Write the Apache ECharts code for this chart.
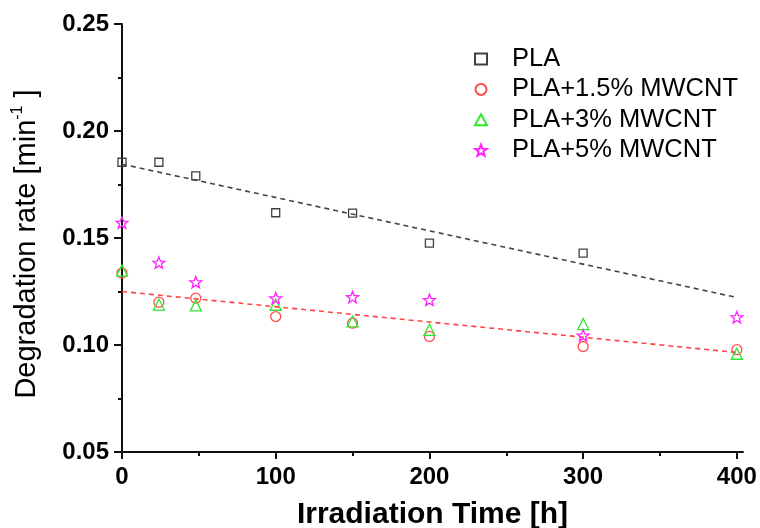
<!DOCTYPE html>
<html>
<head>
<meta charset="utf-8">
<script src="https://cdn.jsdelivr.net/npm/echarts@6/dist/echarts.min.js"></script>
<style>html,body{margin:0;padding:0;background:#fff}#c{width:760px;height:528px}</style>
</head>
<body>
<div id="c"></div>
<script>
// ---- data ----
var seriesNames = ['PLA', 'PLA+1.5% MWCNT', 'PLA+3% MWCNT', 'PLA+5% MWCNT'];
var timePLA = [0, 24, 48, 100, 150, 200, 300];
var ratePLA = [0.1854, 0.1854, 0.1790, 0.1618, 0.1616, 0.1476, 0.1429];
var timeCNT = [0, 24, 48, 100, 150, 200, 300, 400];
var rate15 = [0.1336, 0.1200, 0.1219, 0.1133, 0.1102, 0.1040, 0.0993, 0.0978];
var rate3 = [0.1348, 0.1189, 0.1185, 0.1188, 0.1110, 0.1071, 0.1098, 0.0959];
var rate5 = [0.1572, 0.1385, 0.1294, 0.1219, 0.1224, 0.1211, 0.1045, 0.1130];
var fitTime = [0, 400];
var fitPLA = [0.1845, 0.1222];
var fitCNT = [0.1250, 0.0965];
var xTicks = [0, 100, 200, 300, 400];
var xMinorTicks = [50, 150, 250, 350];
var yTicks = [0.05, 0.10, 0.15, 0.20, 0.25];

function pairs(xs, ys) { return xs.map(function (x, i) { return [x, ys[i]]; }); }

var FONT = '"Liberation Sans", Arial, sans-serif';
var starPath = 'path://M50 0 L62.34 33.01 L97.55 34.55 L69.97 56.49 L79.39 90.45 L50 71 L20.61 90.45 L30.03 56.49 L2.45 34.55 L37.66 33.01 Z';
var colors = ['#404040', '#ff4d4d', '#2fe82f', '#ff22ff'];

var chart = echarts.init(document.getElementById('c'), null, {renderer: 'canvas'});

function scatter(i, xs, ys, symbol, size) {
  return {
    type: 'scatter', name: seriesNames[i], xAxisIndex: 0, yAxisIndex: 0,
    data: pairs(xs, ys), symbol: symbol, symbolSize: size, symbolKeepAspect: true,
    itemStyle: {color: 'rgba(255,255,255,0)', borderColor: colors[i], borderWidth: 1.3, opacity: 1},
    emphasis: {disabled: true}, z: 3 + i
  };
}
function fit(ys, color) {
  return {
    type: 'line', data: pairs(fitTime, ys), symbol: 'none', silent: true,
    lineStyle: {color: color, width: 1.6, type: [5, 4]}, z: 2
  };
}

var option = {
  animation: false,
  backgroundColor: '#fff',
  grid: [
    {left: 122, right: 17, top: 24, bottom: 76, containLabel: false, outerBoundsMode: 'none'},
    {left: 122, right: 17, top: 24, bottom: 76, containLabel: false, outerBoundsMode: 'none'}
  ],
  legend: {
    orient: 'vertical', left: 469, top: 41,
    itemWidth: 12, itemHeight: 11, itemGap: 4.4,
    data: seriesNames,
    textStyle: {fontFamily: FONT, fontSize: 25.5, color: '#000', lineHeight: 24, padding: [0, 0, 0, 20]},
    selectedMode: false
  },
  xAxis: [{
    type: 'value', gridIndex: 0, min: 0, max: 404, interval: 100,
    axisLine: {show: true, lineStyle: {color: '#111', width: 2}},
    axisTick: {show: true, length: 7, customValues: xTicks, lineStyle: {color: '#111', width: 2}},
    axisLabel: {customValues: xTicks, fontFamily: FONT, fontSize: 24, fontWeight: 'bold', color: '#000', margin: 13},
    splitLine: {show: false},
    name: 'Irradiation Time [h]', nameLocation: 'middle', nameGap: 48,
    nameTextStyle: {fontFamily: FONT, fontSize: 30, fontWeight: 'bold', color: '#000'}
  }, {
    type: 'value', gridIndex: 1, min: 0, max: 404, interval: 100,
    axisLine: {show: false},
    axisTick: {show: true, length: 4, customValues: xMinorTicks, lineStyle: {color: '#111', width: 2}},
    axisLabel: {show: false}, splitLine: {show: false}
  }],
  yAxis: [{
    type: 'value', gridIndex: 0, min: 0.05, max: 0.25, interval: 0.05,
    axisLine: {show: true, lineStyle: {color: '#111', width: 2}},
    axisTick: {show: true, length: 8, lineStyle: {color: '#111', width: 2}},
    minorTick: {show: true, splitNumber: 2, length: 4, lineStyle: {color: '#111', width: 2}},
    axisLabel: {fontFamily: FONT, fontSize: 24, fontWeight: 'bold', color: '#000', margin: 13,
      formatter: function (v) { return v.toFixed(2); }},
    splitLine: {show: false},
    name: '{a|Degradation rate [min}{s|-1}{a| ]}', nameLocation: 'middle', nameGap: 78,
    nameTextStyle: {
      padding: [0, 12, 0, 0],
      rich: {
        a: {fontFamily: FONT, fontSize: 29, color: '#000', lineHeight: 34},
        s: {fontFamily: FONT, fontSize: 16, color: '#000', lineHeight: 16, verticalAlign: 'top'}
      }
    }
  }, {
    type: 'value', gridIndex: 1, min: 0.05, max: 0.25, show: false
  }],
  series: [
    fit(fitPLA, '#444'),
    fit(fitCNT, '#ff4444'),
    scatter(0, timePLA, ratePLA, 'rect', 8),
    scatter(1, timeCNT, rate15, 'circle', 10),
    scatter(2, timeCNT, rate3, 'triangle', 11),
    scatter(3, timeCNT, rate5, starPath, 12)
  ]
};
chart.setOption(option);
</script>
</body>
</html>
